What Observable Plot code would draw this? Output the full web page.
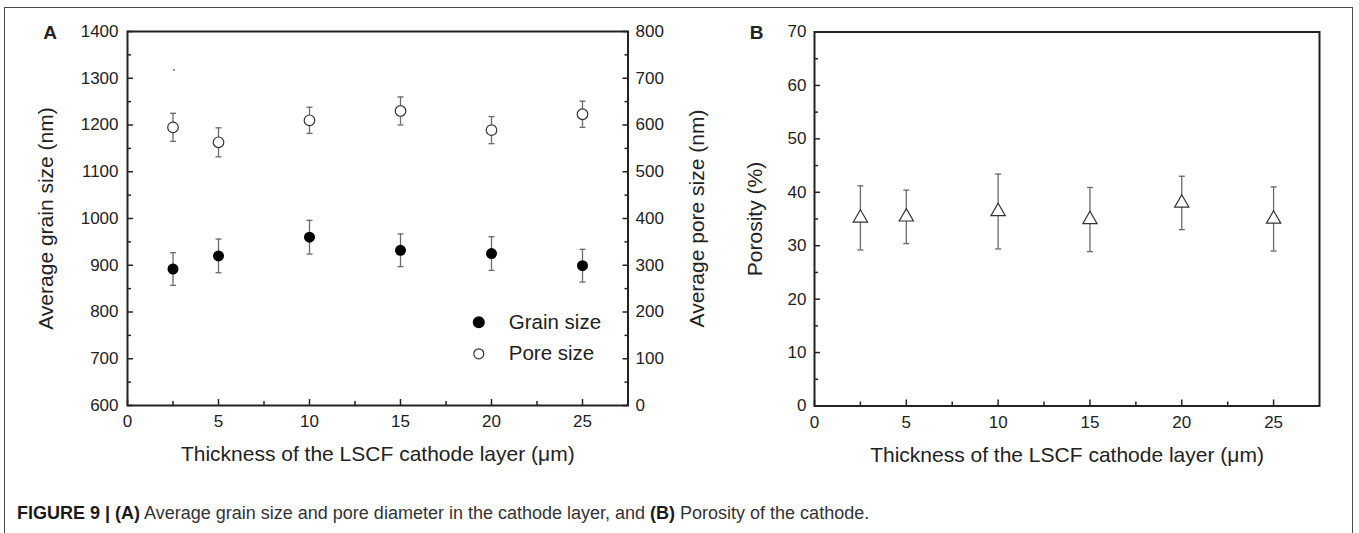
<!DOCTYPE html>
<html>
<head>
<meta charset="utf-8">
<script src="https://cdn.jsdelivr.net/npm/d3@7"></script>
<script src="https://cdn.jsdelivr.net/npm/@observablehq/plot@0.6"></script>
<style>
  html, body { margin: 0; padding: 0; background: #fff; overflow: hidden; }
  #wrap { position: relative; width: 1359px; height: 533px; font-family: "Liberation Sans", Arial, Helvetica, sans-serif; }
  #border { position: absolute; left: 4px; top: 6.5px; width: 1348.5px; height: 640px; border: 1.5px solid #4a4a4a; box-sizing: border-box; }
  #panelA { position: absolute; left: 0; top: 0; }
  #panelB { position: absolute; left: 700px; top: 0; }
  #caption { position: absolute; left: 17px; top: 503px; font-size: 18px; line-height: 20px; color: #333; white-space: nowrap; }
  #caption b { color: #1a1a1a; }
</style>
</head>
<body>
<div id="wrap">
  <div id="border"></div>
  <div id="panelA"></div>
  <div id="panelB"></div>
  <div id="caption"><b>FIGURE 9 | (A)</b> Average grain size and pore diameter in the cathode layer, and <b>(B)</b> Porosity of the cathode.</div>
</div>
<script>
// ---------- data ----------
const thickness   = [2.5, 5, 10, 15, 20, 25];           // µm
const grainSize   = [892, 920, 960, 932, 925, 899];     // nm (left axis)
const grainErr    = [35, 36, 36, 35, 36, 35];
const poreSize    = [595, 563, 610, 630, 589, 623];     // nm (right axis)
const poreErr     = [30, 31, 28, 30, 29, 28];
const porosity    = [35.2, 35.4, 36.4, 34.9, 38.0, 35.0]; // %
const porosityErr = [6.0, 5.0, 7.0, 6.0, 5.0, 6.0];
const strayDot    = [{t: 2.55, v: 1318}];               // small speck visible in panel A

const xDomain = [0, 27.5];
const xTicks = [0, 5, 10, 15, 20, 25];
const xMinor = [2.5, 7.5, 12.5, 17.5, 22.5];
const grainDomain = [600, 1400];
const grainTicks = [600, 700, 800, 900, 1000, 1100, 1200, 1300, 1400];
const grainMinor = [650, 750, 850, 950, 1050, 1150, 1250, 1350];
const poreDomain = [0, 800];
const poreTicks = [0, 100, 200, 300, 400, 500, 600, 700, 800];
const poreMinor = [50, 150, 250, 350, 450, 550, 650, 750];
const porosityDomain = [0, 70];
const porosityTicks = [0, 10, 20, 30, 40, 50, 60, 70];
const porosityMinor = [5, 15, 25, 35, 45, 55, 65];
const legendLabels = ["Grain size", "Pore size"];
const xTitle = "Thickness of the LSCF cathode layer (\u03bcm)";

// map pore values onto the grain (left) scale for the twin axis
const poreToGrain = p => grainDomain[0] + (p - poreDomain[0]) * (grainDomain[1] - grainDomain[0]) / (poreDomain[1] - poreDomain[0]);
const grainToPore = g => poreDomain[0] + (g - grainDomain[0]) * (poreDomain[1] - poreDomain[0]) / (grainDomain[1] - grainDomain[0]);

const grainRows = thickness.map((t, i) => ({t, v: grainSize[i], lo: grainSize[i] - grainErr[i], hi: grainSize[i] + grainErr[i]}));
const poreRows = thickness.map((t, i) => ({t, v: poreToGrain(poreSize[i]), lo: poreToGrain(poreSize[i] - poreErr[i]), hi: poreToGrain(poreSize[i] + poreErr[i])}));
const porRows = thickness.map((t, i) => ({t, v: porosity[i], lo: porosity[i] - porosityErr[i], hi: porosity[i] + porosityErr[i]}));

// horizontal cap symbol for error bars
const capSymbol = {draw(ctx, size) { const w = Math.sqrt(size); ctx.moveTo(-w / 2, 0); ctx.lineTo(w / 2, 0); }};

const font = '"Liberation Sans", Arial, Helvetica, sans-serif';
const ink = "#222";
const errColor = "#6a6a6a";
const plain = d => String(Math.round(d));

function errorBars(rows) {
  return [
    Plot.ruleX(rows, {x: "t", y1: "lo", y2: "hi", stroke: errColor, strokeWidth: 1.3}),
    Plot.dot(rows, {x: "t", y: "hi", symbol: capSymbol, r: 3.4, fill: "none", stroke: errColor, strokeWidth: 1.3}),
    Plot.dot(rows, {x: "t", y: "lo", symbol: capSymbol, r: 3.4, fill: "none", stroke: errColor, strokeWidth: 1.3})
  ];
}

function xAxes() {
  return [
    Plot.axisX({ticks: xTicks, tickSize: -6, tickPadding: 15.5, tickFormat: plain, stroke: ink, strokeWidth: 1.5, label: null}),
    Plot.axisX({ticks: xMinor, tickSize: -4, tickFormat: () => "", stroke: ink, strokeWidth: 1.5, label: null})
  ];
}

const title = (s, o) => Plot.text([s], {text: d => d, fontSize: 21, textAnchor: "middle", lineAnchor: "middle", ...o});

// ---------- Panel A ----------
const plotA = Plot.plot({
  width: 720, height: 470,
  marginLeft: 127, marginRight: 92.5, marginTop: 31, marginBottom: 65,
  style: {fontFamily: font, fontSize: "17px", color: ink, background: "transparent", overflow: "visible"},
  x: {domain: xDomain},
  y: {domain: grainDomain},
  marks: [
    ...xAxes(),
    Plot.axisY({ticks: grainTicks, anchor: "left", tickSize: -6, tickPadding: 15, tickFormat: plain, stroke: ink, strokeWidth: 1.5, label: null}),
    Plot.axisY({ticks: grainMinor, anchor: "left", tickSize: -4, tickFormat: () => "", stroke: ink, strokeWidth: 1.5, label: null}),
    Plot.axisY({ticks: poreTicks.map(poreToGrain), anchor: "right", tickSize: -6, tickPadding: 13.5, tickFormat: v => plain(grainToPore(v)), stroke: ink, strokeWidth: 1.5, label: null}),
    Plot.axisY({ticks: poreMinor.map(poreToGrain), anchor: "right", tickSize: -4, tickFormat: () => "", stroke: ink, strokeWidth: 1.5, label: null}),
    Plot.frame({stroke: ink, strokeWidth: 2}),
    ...errorBars(grainRows),
    ...errorBars(poreRows),
    Plot.dot(grainRows, {x: "t", y: "v", r: 5.5, fill: "#000"}),
    Plot.dot(poreRows, {x: "t", y: "v", r: 5.3, fill: "white", stroke: "#333", strokeWidth: 1.2}),
    Plot.dot(strayDot, {x: "t", y: "v", r: 0.9, fill: "#444"}),
    // legend
    Plot.dot([legendLabels[0]], {frameAnchor: "bottom-right", dx: -149.2, dy: -83.3, r: 6, fill: "#000"}),
    Plot.dot([legendLabels[1]], {frameAnchor: "bottom-right", dx: -149.2, dy: -51.7, r: 5, fill: "white", stroke: "#333", strokeWidth: 1.2}),
    Plot.text([legendLabels[0]], {frameAnchor: "bottom-right", dx: -119.2, dy: -83.3, text: d => d, textAnchor: "start", lineAnchor: "middle", fontSize: 20.5}),
    Plot.text([legendLabels[1]], {frameAnchor: "bottom-right", dx: -119.2, dy: -51.7, text: d => d, textAnchor: "start", lineAnchor: "middle", fontSize: 20.5}),
    // titles
    title("Average grain size (nm)", {frameAnchor: "left", dx: -81.5, rotate: -90}),
    title("Average pore size (nm)", {frameAnchor: "right", dx: 69.5, rotate: -90}),
    title(xTitle, {frameAnchor: "bottom", dy: 49}),
    title("A", {frameAnchor: "top-left", dx: -77.3, dy: 1, fontSize: 19, fontWeight: "bold"})
  ]
});
document.getElementById("panelA").appendChild(plotA);

// ---------- Panel B ----------
const plotB = Plot.plot({
  width: 659, height: 470,
  marginLeft: 114, marginRight: 40, marginTop: 31.5, marginBottom: 64.5,
  style: {fontFamily: font, fontSize: "17px", color: ink, background: "transparent", overflow: "visible"},
  x: {domain: xDomain},
  y: {domain: porosityDomain},
  marks: [
    ...xAxes(),
    Plot.axisY({ticks: porosityTicks, anchor: "left", tickSize: -6, tickPadding: 14, tickFormat: plain, stroke: ink, strokeWidth: 1.5, label: null}),
    Plot.axisY({ticks: porosityMinor, anchor: "left", tickSize: -4, tickFormat: () => "", stroke: ink, strokeWidth: 1.5, label: null}),
    Plot.frame({stroke: ink, strokeWidth: 2}),
    ...errorBars(porRows),
    Plot.dot(porRows, {x: "t", y: "v", symbol: "triangle", r: 5.3, fill: "white", stroke: "#333", strokeWidth: 1.2}),
    title("Porosity (%)", {frameAnchor: "left", dx: -59, rotate: -90}),
    title(xTitle, {frameAnchor: "bottom", dy: 49}),
    title("B", {frameAnchor: "top-left", dx: -58, dy: 0.5, fontSize: 19, fontWeight: "bold"})
  ]
});
document.getElementById("panelB").appendChild(plotB);
</script>
</body>
</html>
